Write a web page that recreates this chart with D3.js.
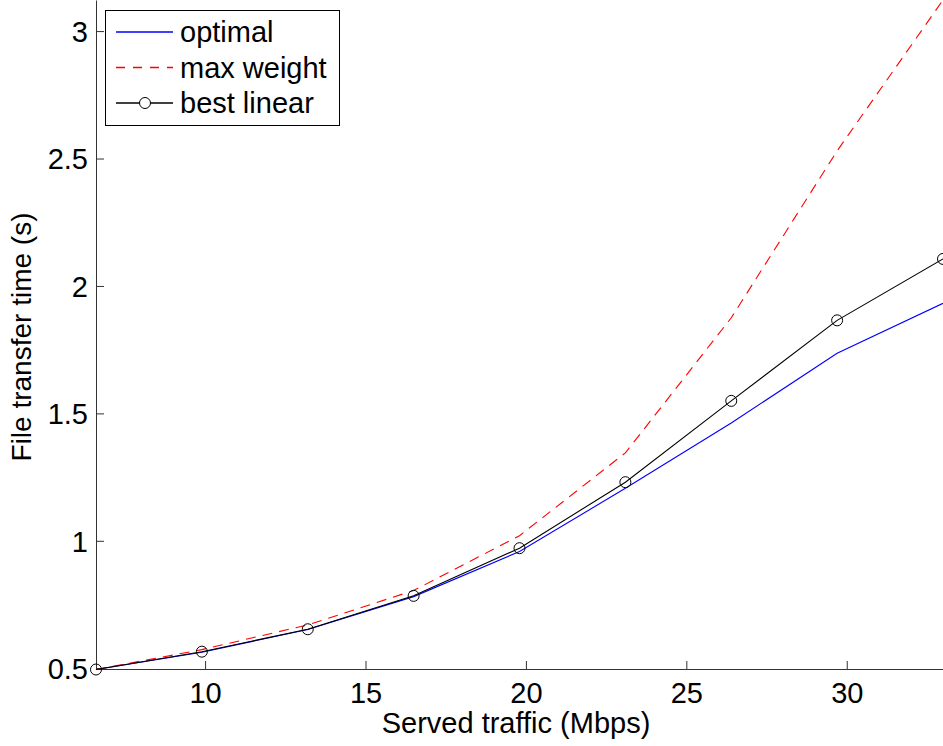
<!DOCTYPE html>
<html lang="en">
<head>
    <meta charset="UTF-8">
    <title>File transfer time vs served traffic</title>
    <script src="https://d3js.org/d3.v7.min.js"></script>
    <style>
        body {
            margin: 0;
            background: #fff;
            font-family: 'Liberation Sans', Arial, sans-serif;
        }
        .axis path, .axis line {
            stroke: #333;
            stroke-width: 1px;
        }
        .axis text {
            font: 29px 'Liberation Sans', Arial, sans-serif;
            fill: #000;
        }
        .axis-label {
            font: 29px 'Liberation Sans', Arial, sans-serif;
            fill: #000;
        }
        .legend text {
            font: 29px 'Liberation Sans', Arial, sans-serif;
            fill: #000;
        }
    </style>
</head>
<body>
    <div id="chart"></div>
    <script>
        // served traffic (Mbps)
        const traffic = [6.6, 9.9, 13.2, 16.5, 19.8, 23.1, 26.4, 29.7, 33.0];
        // file transfer time (s)
        const optimal = [0.495, 0.563, 0.652, 0.781, 0.958, 1.206, 1.462, 1.736, 1.932];
        const maxWeight = [0.495, 0.573, 0.670, 0.805, 1.020, 1.345, 1.875, 2.530, 3.122];
        const bestLinear = [0.495, 0.565, 0.653, 0.784, 0.971, 1.230, 1.549, 1.865, 2.106];

        const xTicks = [10, 15, 20, 25, 30];
        const yTicks = [0.5, 1, 1.5, 2, 2.5, 3];

        const seriesNames = ["optimal", "max weight", "best linear"];

        const width = 943, height = 746;
        const margin = {top: 0, right: 0, bottom: 77, left: 96};

        const svg = d3.select("#chart").append("svg")
            .attr("width", width)
            .attr("height", height);

        const x = d3.scaleLinear()
            .domain([6.6, 33])
            .range([margin.left, width - margin.right]);

        const y = d3.scaleLinear()
            .domain([0.497, 3.122])
            .range([height - margin.bottom, margin.top]);

        // axes, matlab style ticks pointing inward
        svg.append("g")
            .attr("class", "axis")
            .attr("transform", `translate(0,${height - margin.bottom})`)
            .call(d3.axisBottom(x).tickValues(xTicks).tickSizeInner(-8).tickSizeOuter(0)
                .tickPadding(34).tickFormat(d3.format("d")))
            .call(g => g.selectAll("text").attr("dy", "0"));

        svg.append("g")
            .attr("class", "axis")
            .attr("transform", `translate(${margin.left},0)`)
            .call(d3.axisLeft(y).tickValues(yTicks).tickSizeInner(-8).tickSizeOuter(0)
                .tickPadding(8).tickFormat(d => d3.format("")(d)))
            .call(g => g.selectAll("text").attr("dy", "0.36em"));

        svg.append("text")
            .attr("class", "axis-label")
            .attr("x", 516)
            .attr("y", 733)
            .attr("text-anchor", "middle")
            .text("Served traffic (Mbps)");

        svg.append("text")
            .attr("class", "axis-label")
            .style("font-size", "28px")
            .attr("transform", `translate(31,337) rotate(-90)`)
            .attr("text-anchor", "middle")
            .text("File transfer time (s)");

        const line = d3.line()
            .x((d, i) => x(traffic[i]))
            .y(d => y(d));

        svg.append("path")
            .datum(optimal)
            .attr("fill", "none")
            .attr("stroke", "#0000ff")
            .attr("stroke-width", 1.1)
            .attr("d", line);

        svg.append("path")
            .datum(maxWeight)
            .attr("fill", "none")
            .attr("stroke", "#ff0000")
            .attr("stroke-width", 1.1)
            .attr("stroke-dasharray", "10,7")
            .attr("d", line);

        svg.append("path")
            .datum(bestLinear)
            .attr("fill", "none")
            .attr("stroke", "#000")
            .attr("stroke-width", 1.1)
            .attr("d", line);

        svg.selectAll(".marker")
            .data(bestLinear)
            .enter()
            .append("circle")
            .attr("class", "marker")
            .attr("cx", (d, i) => x(traffic[i]))
            .attr("cy", d => y(d))
            .attr("r", 5.5)
            .attr("fill", "none")
            .attr("stroke", "#000")
            .attr("stroke-width", 1);

        // legend
        const legend = svg.append("g").attr("class", "legend");
        legend.append("rect")
            .attr("x", 105.5).attr("y", 10.5)
            .attr("width", 234).attr("height", 115)
            .attr("fill", "#fff").attr("stroke", "#000").attr("stroke-width", 1);

        const legendStyles = [
            {color: "#0000ff", dash: null, marker: false},
            {color: "#ff0000", dash: "9,8", marker: false},
            {color: "#000", dash: null, marker: true}
        ];

        seriesNames.forEach((name, i) => {
            const cy = 32 + i * 35.5;
            const s = legendStyles[i];
            legend.append("line")
                .attr("x1", 116).attr("x2", 173)
                .attr("y1", cy).attr("y2", cy)
                .attr("stroke", s.color)
                .attr("stroke-width", 1.3)
                .attr("stroke-dasharray", s.dash);
            if (s.marker) {
                legend.append("circle")
                    .attr("cx", 145).attr("cy", cy).attr("r", 5.5)
                    .attr("fill", "#fff").attr("stroke", "#000");
            }
            legend.append("text")
                .attr("x", 180).attr("y", cy)
                .attr("dy", "0.35em")
                .text(name);
        });
    </script>
</body>
</html>
